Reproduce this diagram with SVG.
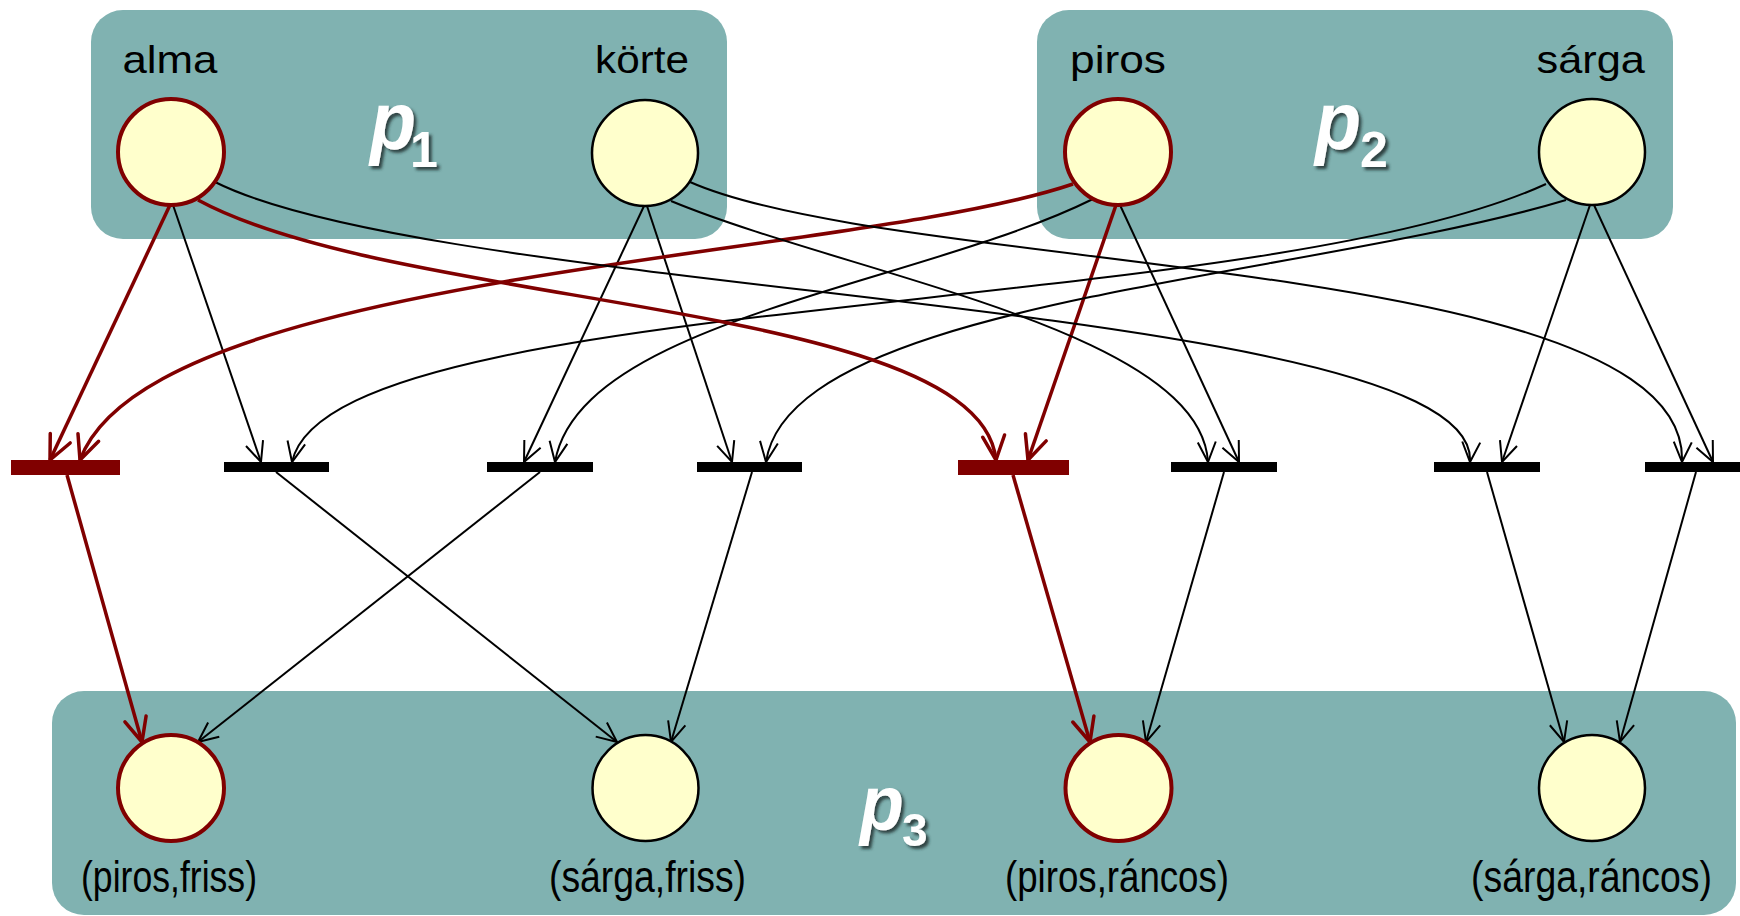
<svg xmlns="http://www.w3.org/2000/svg" width="1740" height="916" viewBox="0 0 1740 916">
<defs>
<style>
.box{fill:#80B2B1;}
.pl{fill:#FFFFCC;stroke:#000;stroke-width:2.5;}
.plr{fill:#FFFFCC;stroke:#800000;stroke-width:4;}
.tr{fill:#000;}
.trr{fill:#800000;}
.c{fill:none;stroke:#000;stroke-width:2;marker-end:url(#ah);}
.cr{fill:none;stroke:#800000;stroke-width:3.5;marker-end:url(#ahr);}
.lbl{font-family:"Liberation Sans",Arial,sans-serif;font-size:39px;fill:#000;}
.blbl{font-family:"Liberation Sans",Arial,sans-serif;font-size:44px;fill:#000;}
.pp{font-family:"Liberation Sans",Arial,sans-serif;font-weight:bold;font-style:italic;fill:#fff;filter:url(#sh);}
.ps{font-family:"Liberation Sans",Arial,sans-serif;font-weight:bold;fill:#fff;filter:url(#sh);}
</style>
<marker id="ah" markerUnits="userSpaceOnUse" viewBox="0 0 24 24" markerWidth="24" markerHeight="24" refX="22" refY="12" orient="auto">
<path d="M2,3 L22,12 L2,21" fill="none" stroke="#000" stroke-width="2"/>
</marker>
<marker id="ahr" markerUnits="userSpaceOnUse" viewBox="0 0 30 30" markerWidth="30" markerHeight="30" refX="27" refY="15" orient="auto">
<path d="M3,4 L27,15 L3,26" fill="none" stroke="#800000" stroke-width="3.5" stroke-linecap="round" stroke-linejoin="round"/>
</marker>
<filter id="sh" x="-30%" y="-30%" width="170%" height="170%">
<feDropShadow dx="3" dy="3" stdDeviation="1.5" flood-color="#1e2e2e" flood-opacity="0.85"/>
</filter>
</defs>

<g id="p1">
<rect class="box" x="91" y="10" width="636" height="229" rx="32"/>
<text class="pp" font-size="82" transform="translate(370,149) scale(0.92,1)">p</text>
<text class="ps" font-size="50" x="410" y="167">1</text>
</g>
<g id="p2">
<rect class="box" x="1037" y="10" width="636" height="229" rx="32"/>
<text class="pp" font-size="82" transform="translate(1315,149) scale(0.92,1)">p</text>
<text class="ps" font-size="50" x="1360" y="167">2</text>
</g>
<g id="p3">
<rect class="box" x="52" y="691" width="1684" height="224" rx="32"/>
<text class="pp" font-size="78" transform="translate(860,830) scale(0.92,1)">p</text>
<text class="ps" font-size="46" x="902" y="846">3</text>
</g>

<g id="connectors">
<path class="cr" d="M170,205 L50,460"/>
<path class="c" d="M173,205 L261,462"/>
<path class="c" d="M644,206 L524,462"/>
<path class="c" d="M647,206 L732,462"/>
<path class="cr" d="M1116,205 L1028,460"/>
<path class="c" d="M1120,205 L1239,462"/>
<path class="c" d="M1590,205 L1502,462"/>
<path class="c" d="M1594,205 L1713,462"/>
<path class="cr" d="M1073,184 C850,260 150,270 80,460"/>
<path class="c" d="M1093,199 C920,285 580,320 555,462"/>
<path class="c" d="M1546,184 C1250,320 330,290 292,462"/>
<path class="c" d="M1566,200 C1300,280 790,300 766,462"/>
<path class="cr" d="M198,200 C400,310 980,300 996,460"/>
<path class="c" d="M215,182 C450,300 1480,300 1470,462"/>
<path class="c" d="M671,201 C850,275 1200,330 1208,462"/>
<path class="c" d="M690,182 C900,275 1690,255 1682,462"/>
<path class="cr" d="M67,475 L142,742"/>
<path class="c" d="M540,472 L198,742"/>
<path class="c" d="M276,472 L617,742"/>
<path class="c" d="M752,472 L671,742"/>
<path class="cr" d="M1013,475 L1090,742"/>
<path class="c" d="M1224,472 L1146,742"/>
<path class="c" d="M1487,472 L1564,742"/>
<path class="c" d="M1696,472 L1620,742"/>
</g>

<g id="alma"><circle class="plr" cx="171" cy="152" r="53"/><text class="lbl" x="122.5" y="73" textLength="95" lengthAdjust="spacingAndGlyphs">alma</text></g>
<g id="korte"><circle class="pl" cx="645" cy="153" r="53"/><text class="lbl" x="595" y="73" textLength="94" lengthAdjust="spacingAndGlyphs">körte</text></g>
<g id="piros"><circle class="plr" cx="1118" cy="152" r="53"/><text class="lbl" x="1070" y="73" textLength="96" lengthAdjust="spacingAndGlyphs">piros</text></g>
<g id="sarga"><circle class="pl" cx="1592" cy="152" r="53"/><text class="lbl" x="1536.5" y="73" textLength="108.5" lengthAdjust="spacingAndGlyphs">sárga</text></g>

<g id="piros_friss"><circle class="plr" cx="171" cy="788" r="53"/><text class="blbl" x="81" y="892" textLength="176" lengthAdjust="spacingAndGlyphs">(piros,friss)</text></g>
<g id="sarga_friss"><circle class="pl" cx="645.5" cy="788" r="53"/><text class="blbl" x="549" y="892" textLength="197" lengthAdjust="spacingAndGlyphs">(sárga,friss)</text></g>
<g id="piros_rancos"><circle class="plr" cx="1118.5" cy="788" r="53"/><text class="blbl" x="1005" y="892" textLength="224" lengthAdjust="spacingAndGlyphs">(piros,ráncos)</text></g>
<g id="sarga_rancos"><circle class="pl" cx="1592" cy="788" r="53"/><text class="blbl" x="1471" y="892" textLength="241" lengthAdjust="spacingAndGlyphs">(sárga,ráncos)</text></g>

<g id="t1"><rect class="trr" x="11" y="460" width="109" height="15"/></g>
<g id="t2"><rect class="tr" x="224" y="462" width="105" height="10"/></g>
<g id="t3"><rect class="tr" x="487" y="462" width="106" height="10"/></g>
<g id="t4"><rect class="tr" x="697" y="462" width="105" height="10"/></g>
<g id="t5"><rect class="trr" x="958" y="460" width="111" height="15"/></g>
<g id="t6"><rect class="tr" x="1171" y="462" width="106" height="10"/></g>
<g id="t7"><rect class="tr" x="1434" y="462" width="106" height="10"/></g>
<g id="t8"><rect class="tr" x="1645" y="462" width="95" height="10"/></g>
</svg>
